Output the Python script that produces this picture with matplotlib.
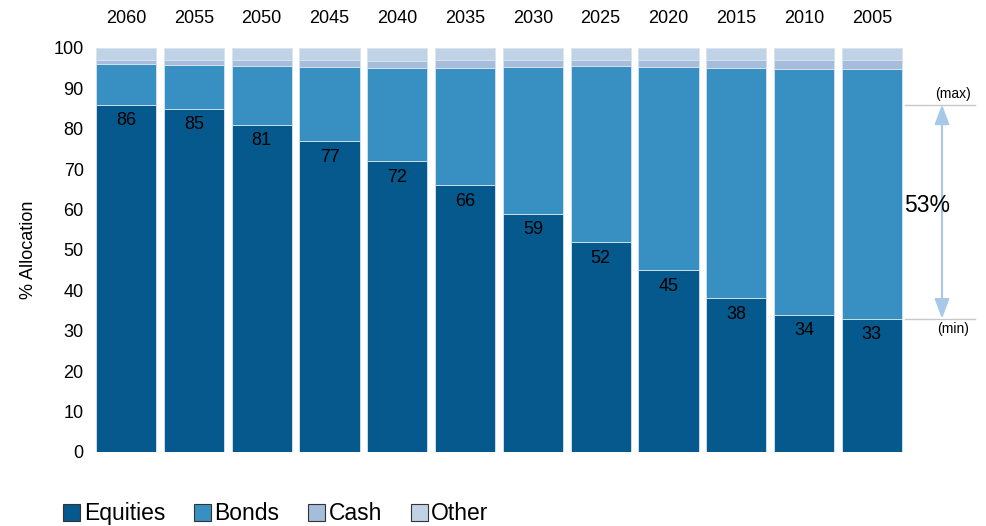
import matplotlib.pyplot as plt
from matplotlib.patches import Patch

plt.rcParams['font.family'] = ['Liberation Sans', 'DejaVu Sans']

# target date funds, left to right
years = ['2060', '2055', '2050', '2045', '2040', '2035', '2030', '2025', '2020', '2015', '2010', '2005']
equities = [86, 85, 81, 77, 72, 66, 59, 52, 45, 38, 34, 33]
bonds = [10.0, 10.8, 14.6, 18.3, 23.0, 29.0, 36.4, 43.5, 50.4, 57.1, 60.9, 61.9]
cash = [1.1, 1.3, 1.5, 1.7, 1.9, 2.0, 1.7, 1.6, 1.7, 2.0, 2.2, 2.2]
other = [100 - e - b - c for e, b, c in zip(equities, bonds, cash)]

colors = {'Equities': '#06598c', 'Bonds': '#3790c1', 'Cash': '#a5bcdb', 'Other': '#c0d3e6'}

fig = plt.figure(figsize=(9.87, 5.26), dpi=100)
ax = fig.add_axes([92 / 987, 1 - 452 / 526, 814 / 987, 404 / 526])

x = list(range(len(years)))
w = 0.89
bottom = [0] * len(years)
for name, vals in [('Equities', equities), ('Bonds', bonds), ('Cash', cash), ('Other', other)]:
    ax.bar(x, vals, w, bottom=bottom, color=colors[name], edgecolor='#d8e4ef', linewidth=0.6)
    bottom = [b + v for b, v in zip(bottom, vals)]

for i, v in enumerate(equities):
    ax.text(i, v - 4.0, f"{v:.0f}", ha='center', va='center', fontsize=13, color='black')

ax.set_xlim(-0.504, 11.504)
ax.set_ylim(0, 100)
ax.set_yticks(range(0, 101, 10))
ax.tick_params(axis='y', length=0, labelsize=13, pad=6)
ax.xaxis.tick_top()
ax.set_xticks(x)
ax.set_xticklabels(years)
ax.tick_params(axis='x', length=0, labelsize=13, pad=15)
for s in ax.spines.values():
    s.set_visible(False)
ax.set_ylabel('% Allocation', fontsize=13, labelpad=12)

# range annotation on the right
hi, lo = max(equities), min(equities)
ax.plot([11.49, 12.52], [hi, hi], color='#c8c8c8', lw=1, clip_on=False)
ax.plot([11.49, 12.52], [lo, lo], color='#c8c8c8', lw=1, clip_on=False)
ax.annotate('', xy=(12.035, hi), xytext=(12.035, lo), annotation_clip=False,
            arrowprops=dict(arrowstyle='<|-|>,head_length=1.2,head_width=0.45', color='#a8c8ea', lw=1.5,
                            shrinkA=0, shrinkB=0))
ax.text(11.82, (hi + lo) / 2 + 1.5, f"{hi - lo}%", ha='center', va='center', fontsize=16.5)
ax.text(12.2, hi + 2.5, '(max)', ha='center', va='center', fontsize=10)
ax.text(12.2, lo - 2.5, '(min)', ha='center', va='center', fontsize=10)

handles = [Patch(facecolor=c, edgecolor='#333333', linewidth=0.8) for c in colors.values()]
fig.legend(handles, list(colors.keys()), loc='lower left', bbox_to_anchor=(0.043, -0.038), ncol=4,
           frameon=False, fontsize=16.5, handlelength=0.75, handleheight=0.75, handletextpad=0.15,
           columnspacing=1.25)

fig.savefig('out.png', dpi=100)
